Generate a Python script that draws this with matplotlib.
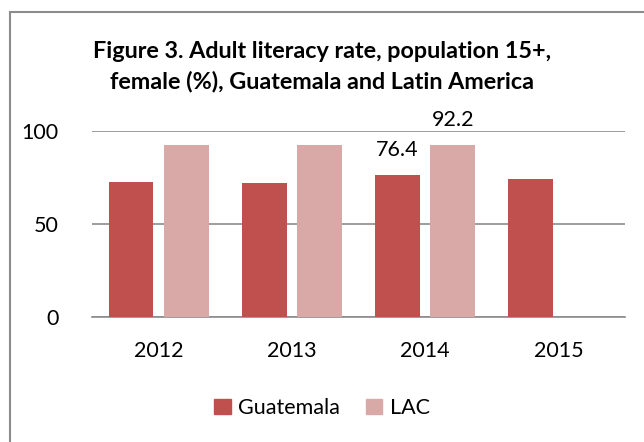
import matplotlib
matplotlib.use("Agg")
import matplotlib.pyplot as plt
import numpy as np
from matplotlib.patches import Rectangle

years = ["2012", "2013", "2014", "2015"]
guatemala = [72.3, 72.1, 76.4, 73.9]
lac = [92.1, 92.2, 92.2, np.nan]
series_names = ["Guatemala", "LAC"]
title = "Figure 3. Adult literacy rate, population 15+,\nfemale (%), Guatemala and Latin America"

plt.rcParams['font.family'] = ['Lato', 'DejaVu Sans']

fig = plt.figure(figsize=(6.44, 4.42), dpi=100)
ax = fig.add_axes([92/644, 1-317/442, (625-92)/644, (317-130.7)/442])

c_g = "#C0504D"
c_l = "#D9A9A8"
x = np.arange(len(years))
w = 0.335
off = 0.2075
ax.bar(x - off, guatemala, w, color=c_g, zorder=3)
ax.bar(x + off, lac, w, color=c_l, zorder=3)

ax.set_xlim(-0.5, 3.5)
ax.set_ylim(0, 100)
ax.set_yticks([0, 50, 100])
ax.yaxis.grid(True, color="#8c8c8c", linewidth=1.2, zorder=0)
for s in ["top", "right", "left"]:
    ax.spines[s].set_visible(False)
ax.spines["bottom"].set_color("#8c8c8c")
ax.spines["bottom"].set_linewidth(1.2)
ax.set_xticks(x)
ax.set_xticklabels(years)
ax.tick_params(axis="both", length=0, labelsize=15.5)
ax.tick_params(axis="x", pad=17)
ax.tick_params(axis="y", pad=24)

ax.text(x[2] - off, guatemala[2] + 8, f"{guatemala[2]:.1f}", ha="center", va="bottom", fontsize=15.5)
ax.text(x[2] + off, lac[2] + 8, f"{lac[2]:.1f}", ha="center", va="bottom", fontsize=15.5)

fig.text(0.5, 1 - 67/442, title, ha="center", va="center", fontsize=16.8,
         fontweight="bold", linespacing=1.5)

handles = [Rectangle((0, 0), 1, 1, color=c_g), Rectangle((0, 0), 1, 1, color=c_l)]
fig.legend(handles, series_names, loc="center", bbox_to_anchor=(0.5, 1 - 408/442),
           ncol=2, frameon=False, fontsize=15.5, handlelength=0.75, handleheight=0.75,
           handletextpad=0.35, columnspacing=1.2)

fig.add_artist(Rectangle((10/644, -0.05), 1.2, 1 - 12/442 + 0.05, transform=fig.transFigure,
                         fill=False, edgecolor="#8c8c8c", linewidth=1.5))

fig.savefig("out.png", dpi=100)
